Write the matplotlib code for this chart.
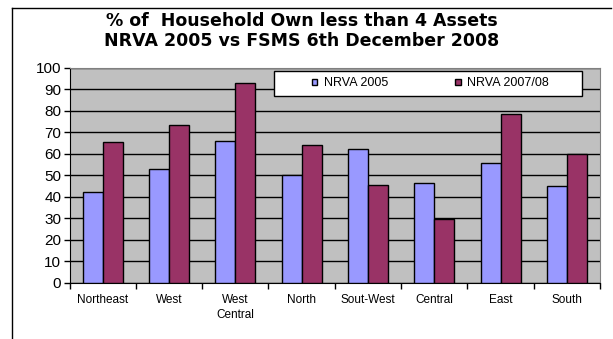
import matplotlib.pyplot as plt
from matplotlib.patches import Rectangle
import numpy as np

plt.rcParams['font.family'] = ['Liberation Sans', 'DejaVu Sans']

regions = ["Northeast", "West", "West\nCentral", "North", "Sout-West", "Central", "East", "South"]
nrva_2005 = [42, 53, 66, 50, 62, 46.5, 55.5, 45]
nrva_2007 = [65.5, 73.5, 93, 64, 45.5, 29.5, 78.5, 60]

color_blue = "#9999FF"
color_red = "#993366"

fig = plt.figure(figsize=(6.13, 3.39), dpi=100)
ax = fig.add_axes([0.1134, 0.166, 0.8656, 0.634])

x = np.arange(len(regions))
w = 0.3  # bar width

ax.bar(x - w/2, nrva_2005, width=w, color=color_blue, edgecolor="black", linewidth=1, label="NRVA 2005", zorder=3)
ax.bar(x + w/2, nrva_2007, width=w, color=color_red, edgecolor="black", linewidth=1, label="NRVA 2007/08", zorder=3)

ax.set_facecolor("#C0C0C0")
ax.set_xlim(-0.5, len(regions) - 0.5)
ax.set_ylim(0, 100)
ax.set_yticks(range(0, 101, 10))
ax.yaxis.grid(True, color="black", linewidth=1, zorder=1)
ax.set_axisbelow(True)

# category labels in the middle, ticks between categories
ax.set_xticks(x)
ax.set_xticklabels(regions, fontsize=8.5, linespacing=1.35)
ax.set_xticks(np.arange(len(regions) + 1) - 0.5, minor=True)
ax.tick_params(axis="x", which="major", length=0, pad=8)
ax.tick_params(axis="x", which="minor", length=4, width=1, direction="out")
ax.tick_params(axis="y", length=4, width=1, labelsize=11, pad=2)

for side in ["top", "right"]:
    ax.spines[side].set_color("#808080")
for side in ["left", "bottom"]:
    ax.spines[side].set_color("black")

# legend box drawn as a plain rectangle, entries spread inside it
ax.add_patch(Rectangle((0.3853, 0.8698), 0.5803, 0.1149, transform=ax.transAxes,
                       facecolor="white", edgecolor="black", linewidth=1, zorder=4))
ax.legend(loc="center", bbox_to_anchor=(0.6802, 0.9272), ncol=2, fontsize=9,
          frameon=False, handlelength=0.45, handleheight=0.45, handletextpad=0.5,
          columnspacing=5.4, borderpad=0).set_zorder(5)

fig.text(0.492, 0.909, "% of  Household Own less than 4 Assets\nNRVA 2005 vs FSMS 6th December 2008",
         ha="center", va="center", fontsize=12.5, fontweight="bold", linespacing=1.12,
         family="DejaVu Sans")

# outer chart frame (top and left edges visible)
fig.add_artist(plt.Line2D([12/613, 611/613], [1 - 7.5/339, 1 - 7.5/339], color="black", linewidth=1))
fig.add_artist(plt.Line2D([12/613, 12/613], [0, 1 - 7.5/339], color="black", linewidth=1))

fig.savefig("out.png", dpi=100)
